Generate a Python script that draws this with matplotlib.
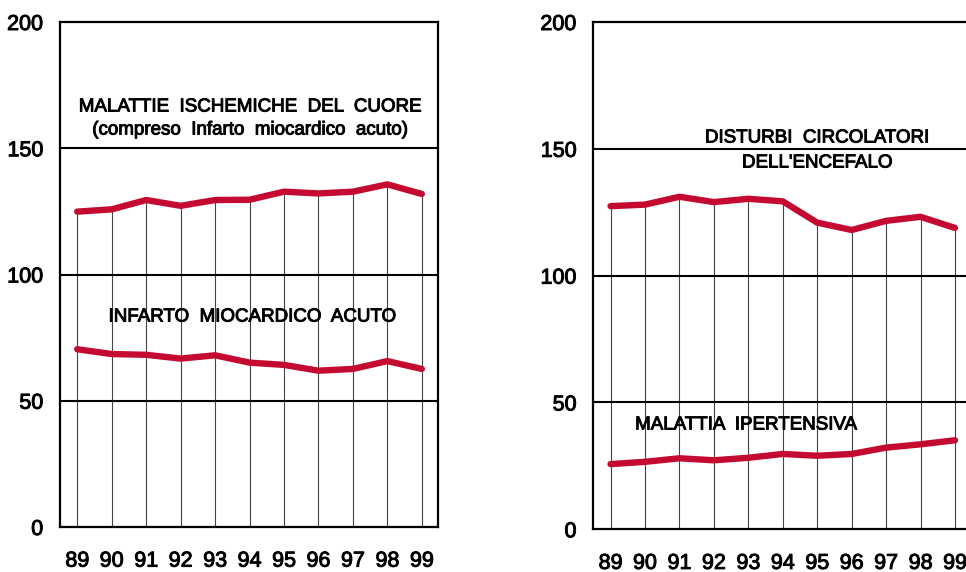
import matplotlib.pyplot as plt
import matplotlib.patheffects as pe

plt.rcParams['font.family'] = ['Liberation Sans', 'DejaVu Sans']

years = [89, 90, 91, 92, 93, 94, 95, 96, 97, 98, 99]
year_labels = ["89", "90", "91", "92", "93", "94", "95", "96", "97", "98", "99"]
y_ticks = [0, 50, 100, 150, 200]

# left panel
ischemiche = [124.9, 125.8, 129.5, 127.2, 129.5, 129.6, 132.8, 132.1, 132.8, 135.7, 131.9]
infarto = [70.4, 68.5, 68.2, 66.7, 68.0, 65.1, 64.2, 61.9, 62.6, 65.7, 62.6]

# right panel
encefalo = [127.4, 128.0, 131.1, 129.0, 130.3, 129.3, 120.9, 118.0, 121.6, 123.2, 118.8]
ipertensiva = [25.7, 26.6, 28.0, 27.2, 28.2, 29.7, 29.0, 29.7, 32.2, 33.5, 35.1]

RED = "#c40a30"
W, H = 966, 572
ink = [pe.withStroke(linewidth=0.7, foreground="black")]

fig = plt.figure(figsize=(W / 100, H / 100), dpi=100)
fig.patch.set_facecolor("white")


def make_panel(rect, xmax, top, bottom, show_right):
    ax = fig.add_axes(rect)
    ax.set_xlim(88.5, xmax)
    ax.set_ylim(0, 200)
    ax.vlines(years, 0, top, color="#444444", linewidth=0.8, zorder=1)
    for v in [50, 100, 150]:
        ax.axhline(v, color="black", linewidth=1.5, zorder=2)
    ax.plot(years, top, color=RED, linewidth=4.6, solid_capstyle="round", solid_joinstyle="round", zorder=3)
    ax.plot(years, bottom, color=RED, linewidth=4.6, solid_capstyle="round", solid_joinstyle="round", zorder=3)
    for s in ["left", "bottom", "top", "right"]:
        ax.spines[s].set_linewidth(1.6)
    ax.spines["right"].set_visible(show_right)
    ax.set_yticks(y_ticks)
    ax.set_yticklabels([str(t) for t in y_ticks])
    ax.set_xticks(years)
    ax.set_xticklabels(year_labels)
    ax.tick_params(axis="y", length=0, pad=12, labelsize=15.5)
    ax.tick_params(axis="x", length=0, pad=17, labelsize=15.5)
    for t in ax.get_xticklabels() + ax.get_yticklabels():
        t.set_path_effects(ink)
    return ax


ax1 = make_panel([60 / W, (572 - 527) / H, 378 / W, 505 / H], 99.47, ischemiche, infarto, True)
ax2 = make_panel([593.3 / W, (572 - 529.3) / H, (W - 593.3) / W, 507.3 / H], 99.32, encefalo, ipertensiva, False)


def label(px, py, text):
    fig.text(px / W, 1 - py / H, text, ha="center", va="center", fontsize=13.5, path_effects=ink)


label(250, 107, "MALATTIE  ISCHEMICHE  DEL  CUORE")
label(250, 130, "(compreso  Infarto  miocardico  acuto)")
label(252, 317, "INFARTO  MIOCARDICO  ACUTO")
label(817, 138, "DISTURBI  CIRCOLATORI")
label(817, 163, "DELL'ENCEFALO")
label(746, 425, "MALATTIA  IPERTENSIVA")

fig.savefig("out.png", dpi=100, facecolor="white")
